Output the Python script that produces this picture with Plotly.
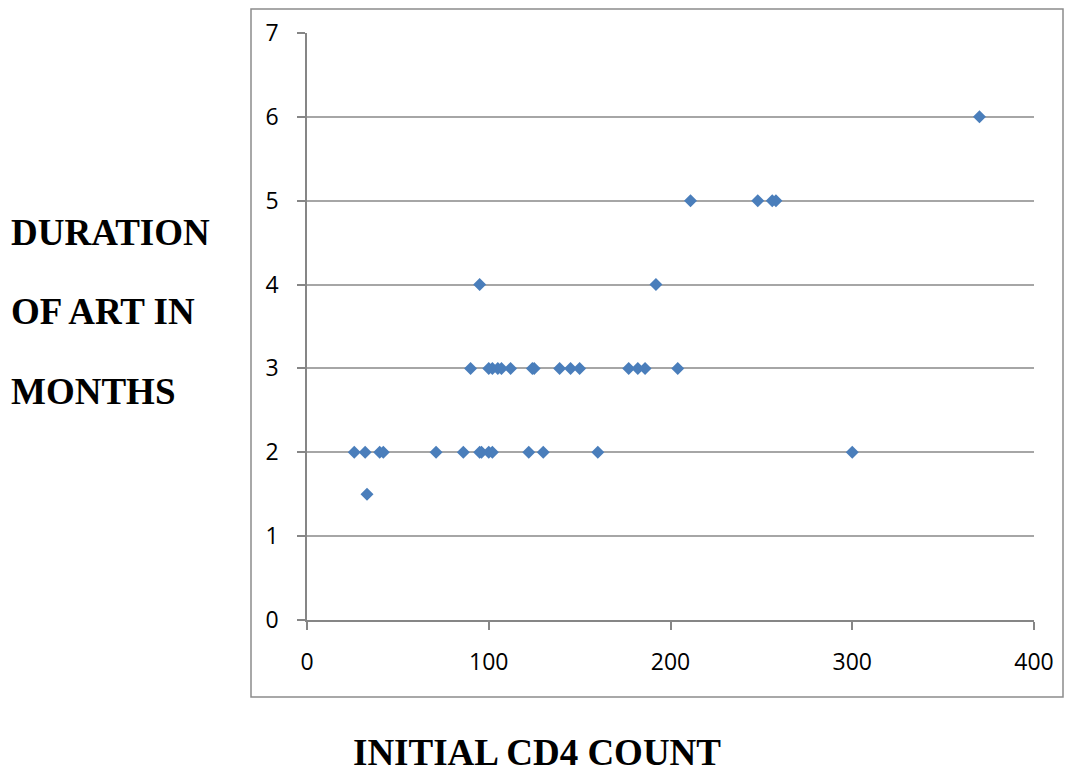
import plotly.graph_objects as go

# Data
cd4_dur2 = [26, 32, 40, 42, 71, 86, 95, 96, 100, 102, 122, 130, 160, 300]
cd4_dur15 = [33]
cd4_dur3 = [90, 100, 102, 105, 107, 112, 124, 125, 139, 145, 150, 177, 182, 186, 204]
cd4_dur4 = [95, 192]
cd4_dur5 = [211, 248, 256, 258]
cd4_dur6 = [370]

initial_cd4 = cd4_dur2 + cd4_dur15 + cd4_dur3 + cd4_dur4 + cd4_dur5 + cd4_dur6
duration_months = ([2] * len(cd4_dur2) + [1.5] * len(cd4_dur15) + [3] * len(cd4_dur3)
                   + [4] * len(cd4_dur4) + [5] * len(cd4_dur5) + [6] * len(cd4_dur6))

x_ticks = [0, 100, 200, 300, 400]
y_ticks = [0, 1, 2, 3, 4, 5, 6, 7]

W, H = 1065, 776
L, R, T, B = 307, 31, 33, 156
pw, ph = W - L - R, H - T - B


def px(xpix):
    return (xpix - L) / pw


def py(ypix):
    return (H - B - ypix) / ph


fig = go.Figure()
fig.add_trace(go.Scatter(
    x=initial_cd4, y=duration_months, mode="markers",
    marker=dict(symbol="diamond", size=10, color="#4A7EBB",
                line=dict(width=0)),
    hoverinfo="skip", showlegend=False,
))

tickfont = dict(family="Open Sans", size=23, color="#000000")
fig.update_xaxes(range=[0, 400], tickvals=x_ticks, showgrid=False, zeroline=False,
                 showline=True, linecolor="#868686", linewidth=1.5,
                 ticks="outside", ticklen=8, tickcolor="#868686", tickwidth=1.5,
                 tickfont=tickfont, ticklabelstandoff=13, fixedrange=True)
fig.update_yaxes(range=[0, 7], tickvals=y_ticks, showgrid=True, gridcolor="#A6A6A6",
                 gridwidth=1.5, zeroline=False,
                 showline=True, linecolor="#868686", linewidth=1.5,
                 ticks="outside", ticklen=8, tickcolor="#868686", tickwidth=1.5,
                 tickfont=tickfont, ticklabelstandoff=14, fixedrange=True)

# outer chart border
fig.add_shape(type="rect", xref="paper", yref="paper",
              x0=px(251), x1=px(1063), y0=py(697), y1=py(9),
              line=dict(color="#8C8C8C", width=1.5), layer="below")

titlefont = dict(family="Liberation Serif", size=37, color="#000000")
for txt, ypix in [("<b>DURATION</b>", 232), ("<b>OF ART IN</b>", 311), ("<b>MONTHS</b>", 391)]:
    fig.add_annotation(text=txt, xref="paper", yref="paper", x=px(9), y=py(ypix),
                       xanchor="left", yanchor="middle", showarrow=False, font=titlefont)
fig.add_annotation(text="<b>INITIAL CD4 COUNT</b>", xref="paper", yref="paper",
                   x=px(537), y=py(752), xanchor="center", yanchor="middle",
                   showarrow=False, font=titlefont)

fig.update_layout(width=W, height=H, margin=dict(l=L, r=R, t=T, b=B),
                  paper_bgcolor="white", plot_bgcolor="white")

fig.write_html("out.html", config={"displayModeBar": False})
